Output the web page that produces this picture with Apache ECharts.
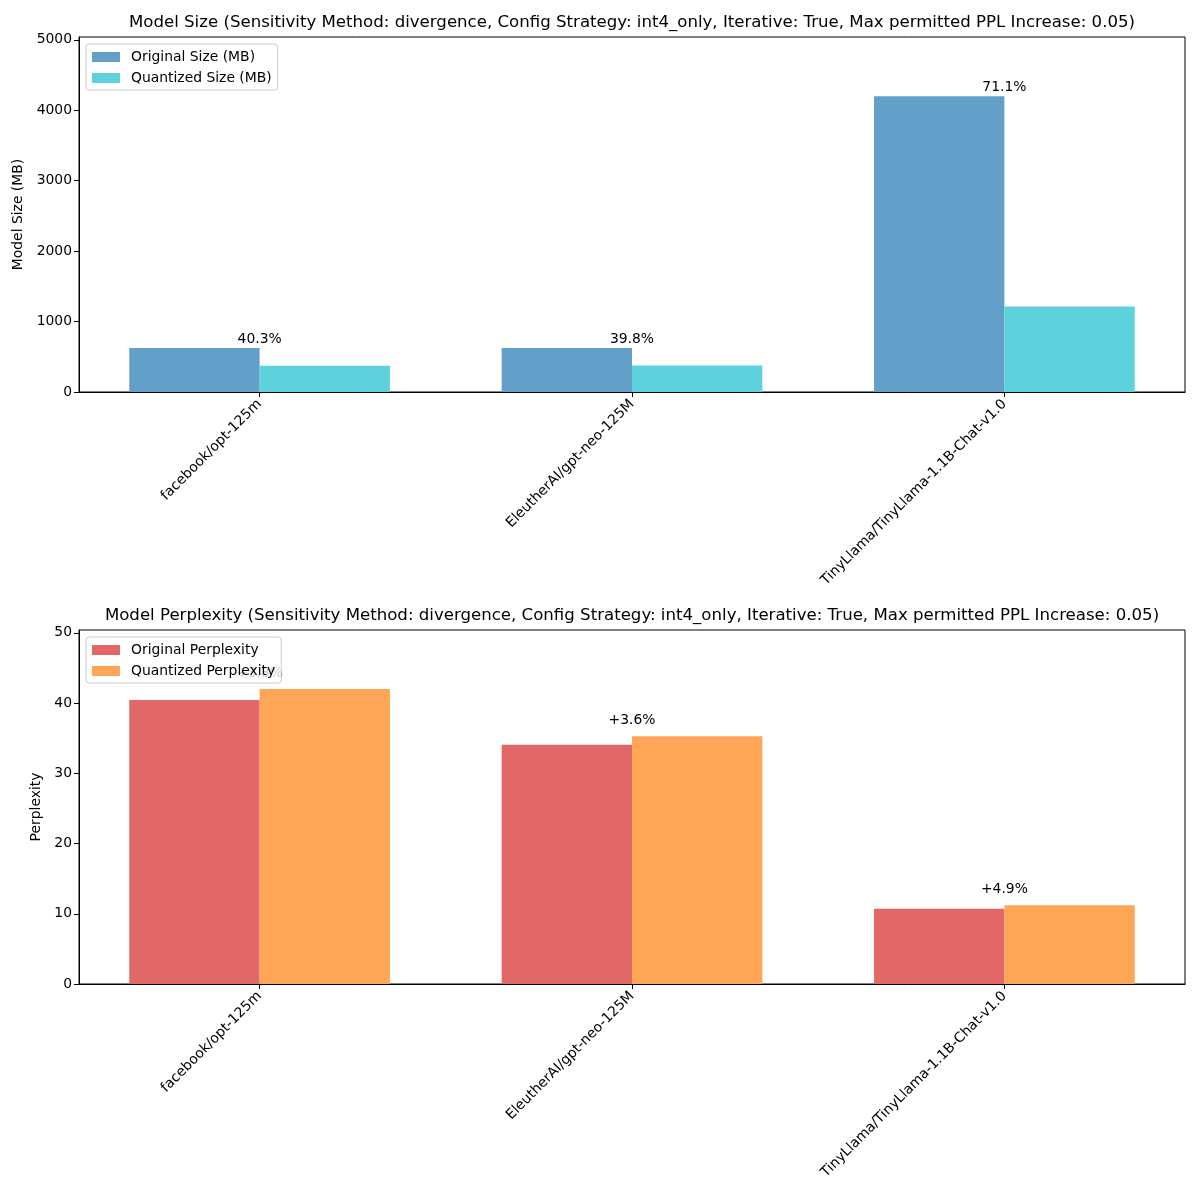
<!DOCTYPE html>
<html>
<head>
<meta charset="utf-8">
<script src="https://cdn.jsdelivr.net/npm/echarts@6/dist/echarts.min.js"></script>
<style>html,body{margin:0;padding:0;background:#fff}#c{width:1200px;height:1200px}</style>
</head>
<body>
<div id="c"></div>
<script>
const models = ['facebook/opt-125m', 'EleutherAI/gpt-neo-125M', 'TinyLlama/TinyLlama-1.1B-Chat-v1.0'];
const originalSize = [625, 625, 4200];
const quantizedSize = [373, 376, 1214];
const sizeReduction = ['40.3%', '39.8%', '71.1%'];
const originalPPL = [40.45, 34.05, 10.70];
const quantizedPPL = [41.99, 35.27, 11.22];
const pplIncrease = ['+3.8%', '+3.6%', '+4.9%'];
const sizeTicks = [0, 1000, 2000, 3000, 4000, 5000];
const pplTicks = [0, 10, 20, 30, 40, 50];
const titleSize = 'Model Size (Sensitivity Method: divergence, Config Strategy: int4_only, Iterative: True, Max permitted PPL Increase: 0.05)';
const titlePPL = 'Model Perplexity (Sensitivity Method: divergence, Config Strategy: int4_only, Iterative: True, Max permitted PPL Increase: 0.05)';

const FONT = 'DejaVu Sans';
const idx = models.map((m, i) => i);
const pts = arr => arr.map((v, i) => [i, v]);

function xAxisFor(g) {
  return {
    type: 'value', gridIndex: g, min: -0.485, max: 2.485,
    axisLine: { show: true, onZero: false, lineStyle: { color: '#000', width: 1 } },
    axisTick: { show: true, length: 5, lineStyle: { color: '#000' }, customValues: idx },
    axisLabel: { show: true, rotate: 45, margin: 10, fontFamily: FONT, fontSize: 13.9, color: '#000',
      customValues: idx, formatter: v => models[Math.round(v)] },
    splitLine: { show: false }
  };
}
function yAxisFor(g, max, ticks, name, gap) {
  return {
    type: 'value', gridIndex: g, min: 0, max: max,
    name: name, nameLocation: 'middle', nameGap: gap, nameRotate: 90,
    nameTextStyle: { fontFamily: FONT, fontSize: 13.9, color: '#000' },
    axisLine: { show: true, onZero: false, lineStyle: { color: '#000', width: 1 } },
    axisTick: { show: true, length: 5, lineStyle: { color: '#000' }, customValues: ticks },
    axisLabel: { show: true, margin: 7, fontFamily: FONT, fontSize: 13.9, color: '#000', customValues: ticks,
      formatter: v => String(v) },
    splitLine: { show: false }
  };
}
function legendFor(names, top) {
  return {
    orient: 'vertical', left: 86, top: top, data: names,
    itemWidth: 28, itemHeight: 10, itemGap: 7,
    padding: [6, 6, 5, 6],
    backgroundColor: 'rgba(255,255,255,0.8)', borderColor: '#cccccc', borderWidth: 1, borderRadius: 3,
    textStyle: { fontFamily: FONT, fontSize: 13.9, color: '#000', padding: [0, 0, 0, 6] },
    icon: 'rect'
  };
}
function bar(name, data, color, x, y) {
  return { type: 'bar', name: name, xAxisIndex: x, yAxisIndex: y, data: pts(data),
    barWidth: '35%', barGap: '0%', itemStyle: { color: color }, emphasis: { disabled: true } };
}
function labels(data, texts, x, y, dist) {
  return { type: 'scatter', xAxisIndex: x, yAxisIndex: y, data: pts(data), symbolSize: 0, silent: true,
    itemStyle: { color: '#000', opacity: 1 },
    label: { show: true, position: 'top', distance: dist, fontFamily: FONT, fontSize: 13.9, color: '#000',
      opacity: 1, textBorderWidth: 0, formatter: p => texts[p.dataIndex] } };
}

const chart = echarts.init(document.getElementById('c'), null, { renderer: 'canvas' });
chart.setOption({
  animation: false,
  backgroundColor: '#fff',
  title: [
    { text: titleSize, left: 632, top: 14, textAlign: 'center', padding: 0,
      textStyle: { fontFamily: FONT, fontSize: 16.6, fontWeight: 'normal', color: '#000' } },
    { text: titlePPL, left: 632, top: 607, textAlign: 'center', padding: 0,
      textStyle: { fontFamily: FONT, fontSize: 16.6, fontWeight: 'normal', color: '#000' } }
  ],
  legend: [
    legendFor(['Original Size (MB)', 'Quantized Size (MB)'], 44),
    legendFor(['Original Perplexity', 'Quantized Perplexity'], 637)
  ],
  grid: [
    { left: 79, right: 15, top: 37, height: 355, show: true, borderColor: '#000', borderWidth: 1 },
    { left: 79, right: 15, top: 630, height: 354, show: true, borderColor: '#000', borderWidth: 1 }
  ],
  xAxis: [xAxisFor(0), xAxisFor(1)],
  yAxis: [
    yAxisFor(0, 5040, sizeTicks, 'Model Size (MB)', 49),
    yAxisFor(1, 50.4, pplTicks, 'Perplexity', 29)
  ],
  series: [
    bar('Original Size (MB)', originalSize, '#62a0ca', 0, 0),
    bar('Quantized Size (MB)', quantizedSize, '#5dd2dd', 0, 0),
    labels(originalSize, sizeReduction, 0, 0, 2),
    bar('Original Perplexity', originalPPL, '#e26868', 1, 1),
    bar('Quantized Perplexity', quantizedPPL, '#ffa556', 1, 1),
    labels(quantizedPPL, pplIncrease, 1, 1, 9)
  ]
});
</script>
</body>
</html>
